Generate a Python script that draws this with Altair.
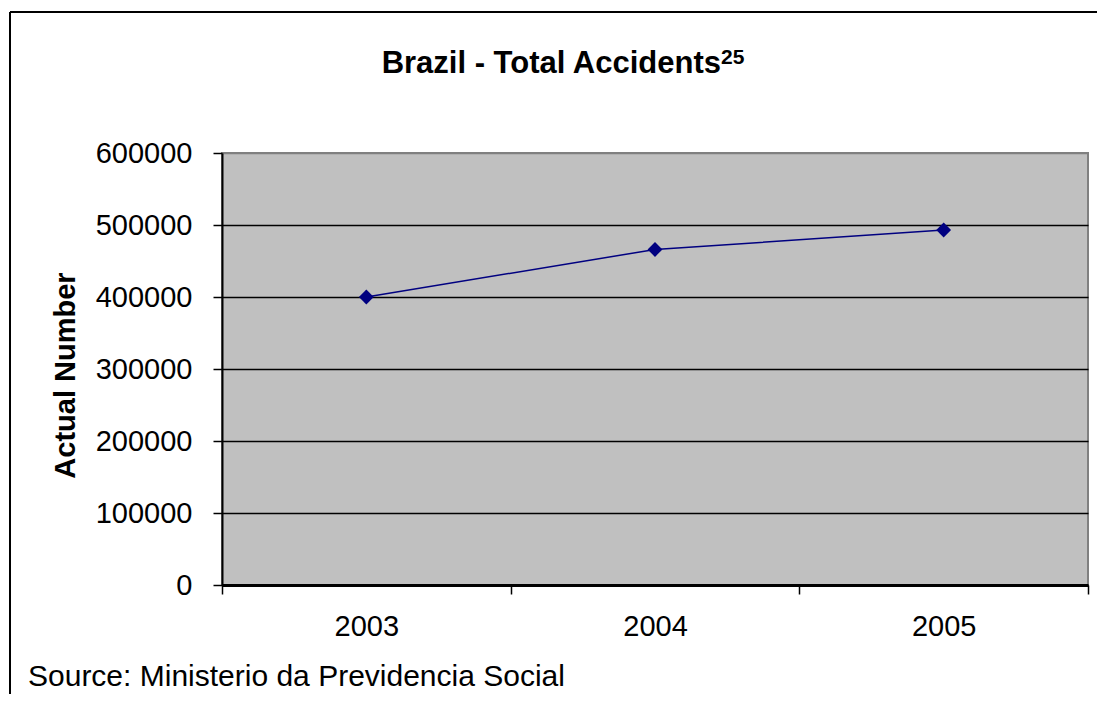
import altair as alt
import pandas as pd

years = [2003, 2004, 2005]
accidents = [400000, 466000, 493000]
title_text = "Brazil - Total Accidents"
title_sup = "25"
y_title = "Actual Number"
source_text = "Source: Ministerio da Previdencia Social"
y_ticks = [0, 100000, 200000, 300000, 400000, 500000, 600000]
x_ticks = [2002.5, 2003, 2003.5, 2004, 2004.5, 2005, 2005.5]

FONT = "Liberation Sans"
df = pd.DataFrame({"year": years, "value": accidents})

x_enc = alt.X(
    "year:Q",
    scale=alt.Scale(domain=[2002.5, 2005.5], nice=False, zero=False),
    axis=alt.Axis(
        values=x_ticks,
        title=None,
        grid=False,
        labelExpr="datum.value % 1 === 0 ? datum.value + '' : ''",
        tickOpacity=alt.expr("datum.value % 1 === 0 ? 0 : 1"),
        tickColor="black",
        tickSize=9,
        tickWidth=1.5,
        domainColor="black",
        domainWidth=3,
        labelFont=FONT,
        labelFontSize=29,
        labelColor="black",
        labelPadding=18,
        labelOverlap=False,
        labelFlush=False,
    ),
)
y_enc = alt.Y(
    "value:Q",
    scale=alt.Scale(domain=[0, 600000], nice=False),
    axis=alt.Axis(
        values=y_ticks,
        format="d",
        title=y_title,
        titleFont=FONT,
        titleFontSize=29,
        titleFontWeight="bold",
        titleColor="black",
        titleX=-157,
        titleY=222,
        titleBaseline="middle",
        titleAngle=270,
        grid=True,
        gridColor=alt.expr("datum.value === 600000 ? '#808080' : 'black'"),
        gridWidth=1.5,
        tickColor="black",
        tickSize=9,
        tickWidth=1.5,
        domainColor="black",
        domainWidth=2,
        labelFont=FONT,
        labelFontSize=29,
        labelColor="black",
        labelPadding=21,
    ),
)

line = alt.Chart(df).mark_line(color="#000080", strokeWidth=1.5).encode(x=x_enc, y=y_enc)
pts = alt.Chart(df).mark_point(
    shape="diamond", filled=True, size=220, color="#000080", opacity=1
).encode(x="year:Q", y="value:Q")

title = alt.Chart(pd.DataFrame({"t": [title_text]})).mark_text(
    font=FONT, fontSize=31, fontWeight="bold", color="black", align="right", baseline="alphabetic"
).encode(text="t:N", x=alt.value(499), y=alt.value(-80))
sup = alt.Chart(pd.DataFrame({"t": [title_sup]})).mark_text(
    font=FONT, fontSize=21, fontWeight="bold", color="black", align="left", baseline="alphabetic"
).encode(text="t:N", x=alt.value(499), y=alt.value(-89))
source = alt.Chart(pd.DataFrame({"t": [source_text]})).mark_text(
    font=FONT, fontSize=30, color="black", align="left", baseline="alphabetic"
).encode(text="t:N", x=alt.value(-194), y=alt.value(533))

bd = pd.DataFrame({"k": [0]})
border_top = alt.Chart(bd).mark_rule(color="black", strokeWidth=2).encode(
    x=alt.value(-212), x2=alt.value(900), y=alt.value(-141)
)
border_left = alt.Chart(bd).mark_rule(color="black", strokeWidth=2).encode(
    x=alt.value(-212), y=alt.value(-141), y2=alt.value(600)
)

chart = alt.layer(line, pts, title, sup, source, border_top, border_left).properties(
    width=866,
    height=432,
    padding={"left": 214, "top": 145, "right": 9, "bottom": 109},
    autosize=alt.AutoSizeParams(type="none"),
    background="white",
).configure_view(fill="#C0C0C0", stroke="#808080", strokeWidth=2)

chart.save("out.html", embed_options={"renderer": "svg", "actions": False})
